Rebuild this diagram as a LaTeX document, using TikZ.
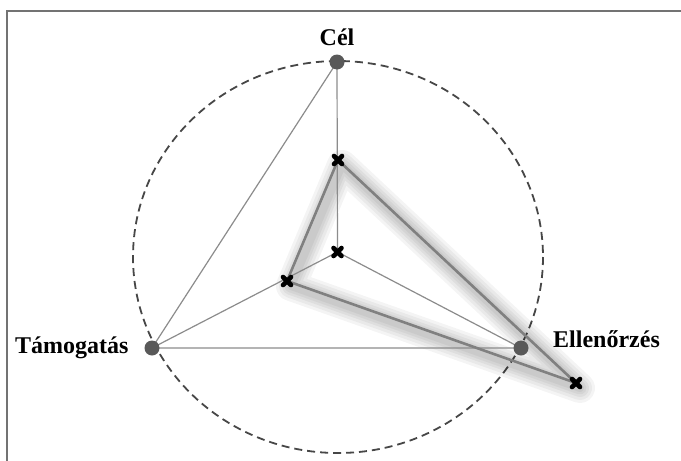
\documentclass[tikz,border=0pt]{standalone}
\usepackage{fontspec}
\setmainfont{Liberation Serif}
\begin{document}
\begin{tikzpicture}[x=1pt,y=-1pt,
  thinline/.style={draw=black!45,line width=1.2pt},
  dataline/.style={draw=black!50,line width=2.6pt,line join=round},
  shadowline/.style={draw=black,line join=round,opacity=0.045},
  vdot/.style={circle,fill=black!65,minimum size=15pt,inner sep=0pt},
  lbl/.style={font=\bfseries\fontsize{24}{27}\selectfont,inner sep=0pt},
  xmark/.style={line width=4.6pt,line cap=round,draw=black}]
\useasboundingbox (0,0) rectangle (681,461);
\fill[white] (0,0) rectangle (681,461);
% frame (top and left only)
\draw[black!55,line width=2pt] (7,461) -- (7,10.5) -- (681,10.5);
% coordinates
\coordinate (C) at (337.5,252);
\coordinate (A) at (337,62);
\coordinate (B) at (152,348);
\coordinate (D) at (521,348);
\coordinate (pA) at (338,160);
\coordinate (pB) at (287,281);
\coordinate (pD) at (576,383);
% dashed circle
\draw[black!72,line width=1.8pt,dash pattern=on 8pt off 5pt] (338,257) ellipse [x radius=205,y radius=196];
% shadow of data triangle
\foreach \w in {30,24,18,13,8}{
  \draw[shadowline,line width=\w pt,shift={(4,5)}] (338,160) -- (287,281) -- (576,383) -- cycle;
}
% thin lines
\draw[thinline] (A) -- (B) -- (D);
\draw[thinline] (C) -- (A);
\draw[thinline] (C) -- (B);
\draw[thinline] (C) -- (D);
% data triangle
\draw[dataline] (pA) -- (pB) -- (pD) -- cycle;
% vertex dots
\node[vdot] (nA) at (A) {};
\node[vdot] (nB) at (B) {};
\node[vdot] (nD) at (D) {};
% x marks
\foreach \p in {C,pA,pB,pD}{
  \draw[xmark] ([shift={(-4,-4)}]\p) -- ([shift={(4,4)}]\p);
  \draw[xmark] ([shift={(-4,4)}]\p) -- ([shift={(4,-4)}]\p);
}
% labels
\node[lbl,anchor=base] (tA) at (337,45) {Cél};
\node[lbl,anchor=base west] (tB) at (15,353) {Támogatás};
\node[lbl,anchor=base west] (tD) at (553,347) {Ellenőrzés};
\end{tikzpicture}
\end{document}
